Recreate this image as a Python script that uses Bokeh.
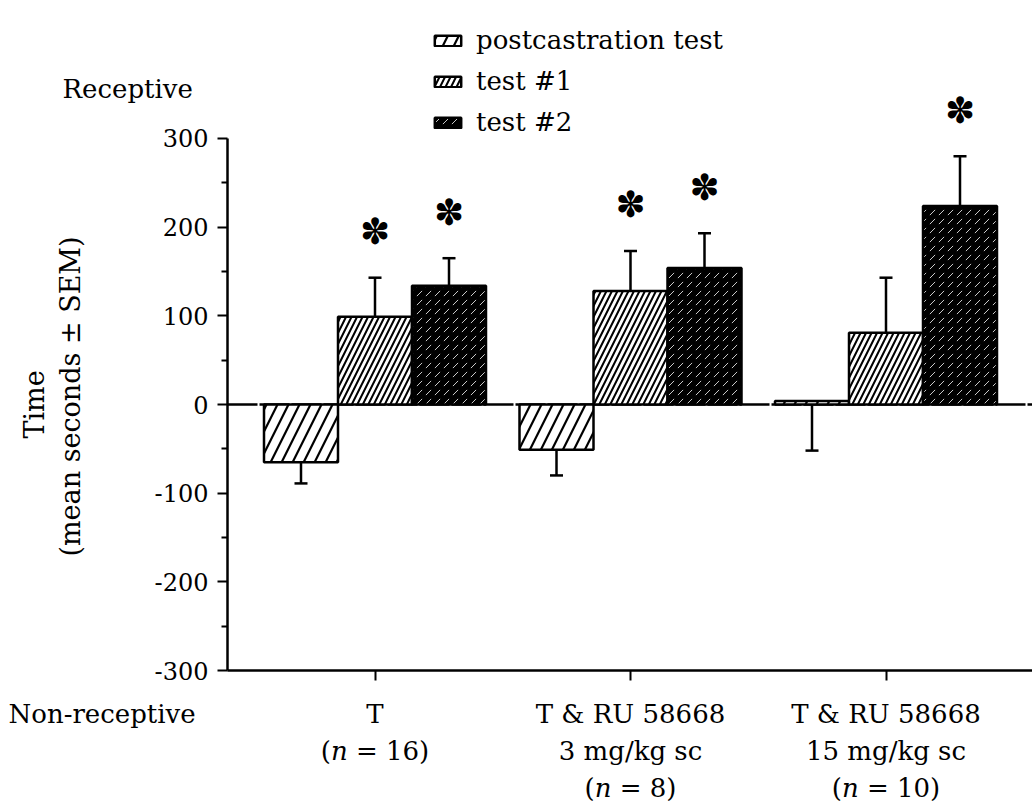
import math
from bokeh.plotting import figure
from bokeh.models import (Range1d, LinearAxis, FixedTicker, ColumnDataSource, Whisker,
                          TeeHead, Legend, LegendItem)
from bokeh.core.properties import value
from bokeh.embed import file_html
from bokeh.resources import INLINE

# ---- data -------------------------------------------------------------
group_lines = [
    ["T", "(n = 16)"],
    ["T & RU 58668", "3 mg/kg sc", "(n = 8)"],
    ["T & RU 58668", "15 mg/kg sc", "(n = 10)"],
]
post_mean = [-65, -51, 4]
post_sem = [24, 29, 56]
test1_mean = [99, 128, 81]
test1_sem = [44, 45, 62]
test2_mean = [134, 154, 224]
test2_sem = [31, 39, 56]
test1_sig = [True, True, False]
test2_sig = [True, True, True]
series_names = ["postcastration test", "test #1", "test #2"]
y_ticks = [-300, -200, -100, 0, 100, 200, 300]
y_tick_labels = ["-300", "-200", "-100", "0", "100", "200", "300"]

# ---- canvas geometry (pixel <-> data helpers) -------------------------
W, H = 1032, 803
GROUP_PX, GROUP0_PX = 255.5, 374.5
YSCALE, Y0_PX = 0.8867, 404.0


def xd(px):
    return (px - GROUP0_PX) / GROUP_PX


def yd(py):
    return (Y0_PX - py) / YSCALE


SERIF = value("DejaVu Serif")
BAR_W = 74 / GROUP_PX
AXIS_X = xd(227)

p = figure(width=W, height=H, x_range=Range1d(xd(0), xd(W)), y_range=Range1d(yd(H), yd(0)),
           output_backend="svg", toolbar_location=None, x_axis_location=None,
           y_axis_location=None, min_border=0, outline_line_color=None,
           background_fill_color="white", border_fill_color="white")
p.xgrid.visible = False
p.ygrid.visible = False

# ---- axes -------------------------------------------------------------
yaxis = LinearAxis(fixed_location=AXIS_X, bounds=(-300, 300),
                   ticker=FixedTicker(ticks=y_ticks,
                                      minor_ticks=[t + 50 for t in y_ticks[:-1]]),
                   major_label_overrides={t: s for t, s in zip(y_ticks, y_tick_labels)},
                   axis_line_width=2.5, major_tick_line_width=2, minor_tick_line_width=2,
                   major_tick_out=10, major_tick_in=0, minor_tick_out=6, minor_tick_in=0,
                   major_label_standoff=9, major_label_text_font="DejaVu Serif",
                   major_label_text_font_size="24px", major_label_text_color="black")
p.add_layout(yaxis, "left")

xaxis = LinearAxis(fixed_location=-300, bounds=(AXIS_X, xd(W)),
                   ticker=FixedTicker(ticks=list(range(len(group_lines))), minor_ticks=[]),
                   major_label_overrides={i: "" for i in range(len(group_lines))},
                   axis_line_width=2.5, major_tick_line_width=2,
                   major_tick_out=10, major_tick_in=0, minor_tick_out=0)
p.add_layout(xaxis, "below")

# zero line
p.line(x=[AXIS_X, xd(W)], y=[0, 0], line_color="black", line_width=2.4, line_dash="30 2")

# ---- bars -------------------------------------------------------------
groups = list(range(len(group_lines)))
offsets = [-BAR_W, 0.0, BAR_W]
means = [post_mean, test1_mean, test2_mean]
sems = [post_sem, test1_sem, test2_sem]
styles = [
    dict(fill_color="white", hatch_pattern="/", hatch_color="black", hatch_scale=22, hatch_weight=2.2),
    dict(fill_color="white", hatch_pattern="/", hatch_color="black", hatch_scale=11, hatch_weight=2.0),
    dict(fill_color="black", hatch_pattern=",", hatch_color="white", hatch_scale=9, hatch_weight=0.8),
]

renderers = []
for k in range(3):
    xs = [g + offsets[k] for g in groups]
    src = ColumnDataSource(dict(x=xs, top=means[k]))
    r = p.vbar(x="x", top="top", bottom=0, width=BAR_W, source=src, line_color="black",
               line_width=2.5, **styles[k])
    renderers.append(r)

    # error bars: postcastration drawn downward, the tests upward
    if k == 0:
        lower = [m - s for m, s in zip(means[k], sems[k])]
        upper = list(means[k])
        esrc = ColumnDataSource(dict(x=xs, lower=lower, upper=upper))
        w = Whisker(base="x", lower="lower", upper="upper", source=esrc, line_width=2.5,
                    upper_head=None, lower_head=TeeHead(size=13, line_width=2.5))
    else:
        lower = list(means[k])
        upper = [m + s for m, s in zip(means[k], sems[k])]
        esrc = ColumnDataSource(dict(x=xs, lower=lower, upper=upper))
        w = Whisker(base="x", lower="lower", upper="upper", source=esrc, line_width=2.5,
                    lower_head=None, upper_head=TeeHead(size=13, line_width=2.5))
    p.add_layout(w)

# significance marks above the error bars
sx, sy = [], []
for k, flags in ((1, test1_sig), (2, test2_sig)):
    for g, flag in zip(groups, flags):
        if flag:
            sx.append(g + offsets[k])
            sy.append(means[k][g] + sems[k][g] + 52)
p.text(x=sx, y=sy, text=["\u273d"] * len(sx), text_font=value("DejaVu Sans"),
       text_font_size="36px", text_align="center", text_baseline="middle", text_color="black")

# ---- legend -----------------------------------------------------------
legend = Legend(items=[LegendItem(label=n, renderers=[r]) for n, r in zip(series_names, renderers)],
                location=(431, H - 25 - 112), glyph_width=33, glyph_height=13,
                label_text_font="DejaVu Serif", label_text_font_size="26px",
                label_text_color="black",
                label_standoff=12, spacing=11, padding=0, margin=0,
                border_line_color=None, background_fill_alpha=0)
p.add_layout(legend)

# ---- texts ------------------------------------------------------------
p.text(x=[xd(62)], y=[yd(88)], text=["Receptive"], text_font=SERIF, text_font_size="26px",
       text_align="left", text_baseline="middle", text_color="black")
p.text(x=[xd(34), xd(70)], y=[yd(404), yd(396)], text=["Time", "(mean seconds \u00b1 SEM)"],
       angle=math.pi / 2, text_font=SERIF, text_font_size="27px", text_align="center",
       text_baseline="middle", text_color="black")
p.text(x=[xd(8)], y=[yd(713)], text=["Non-receptive"], text_font=SERIF, text_font_size="26px",
       text_align="left", text_baseline="middle", text_color="black")

LINE_PX = [713, 750, 787]
FS = 26
EM = {"(": 0.390, ")": 0.390, "n": 0.640, " ": 0.318, "=": 0.838}


def em_width(s):
    return sum(EM.get(c, 0.636) for c in s) * FS


plain_x, plain_y, plain_t = [], [], []
ital_x, ital_y = [], []
for g, lines in zip(groups, group_lines):
    cpx = GROUP0_PX + g * GROUP_PX
    for i, line in enumerate(lines):
        ypx = LINE_PX[i]
        if line.startswith("(n"):
            rest = line[3:]
            left = cpx - em_width(line) / 2
            plain_x.append(xd(left)); plain_y.append(yd(ypx)); plain_t.append("(")
            ital_x.append(xd(left + em_width("("))); ital_y.append(yd(ypx))
            plain_x.append(xd(left + em_width("(n "))); plain_y.append(yd(ypx)); plain_t.append(rest)
        else:
            p.text(x=[g], y=[yd(ypx)], text=[line], text_font=SERIF, text_font_size="26px",
                   text_align="center", text_baseline="middle", text_color="black")
p.text(x=plain_x, y=plain_y, text=plain_t, text_font=SERIF, text_font_size="26px",
       text_align="left", text_baseline="middle", text_color="black")
p.text(x=ital_x, y=ital_y, text=["n"] * len(ital_x), text_font=SERIF, text_font_size="26px",
       text_font_style="italic", text_align="left", text_baseline="middle", text_color="black")

open("out.html", "w").write(file_html(p, INLINE))
